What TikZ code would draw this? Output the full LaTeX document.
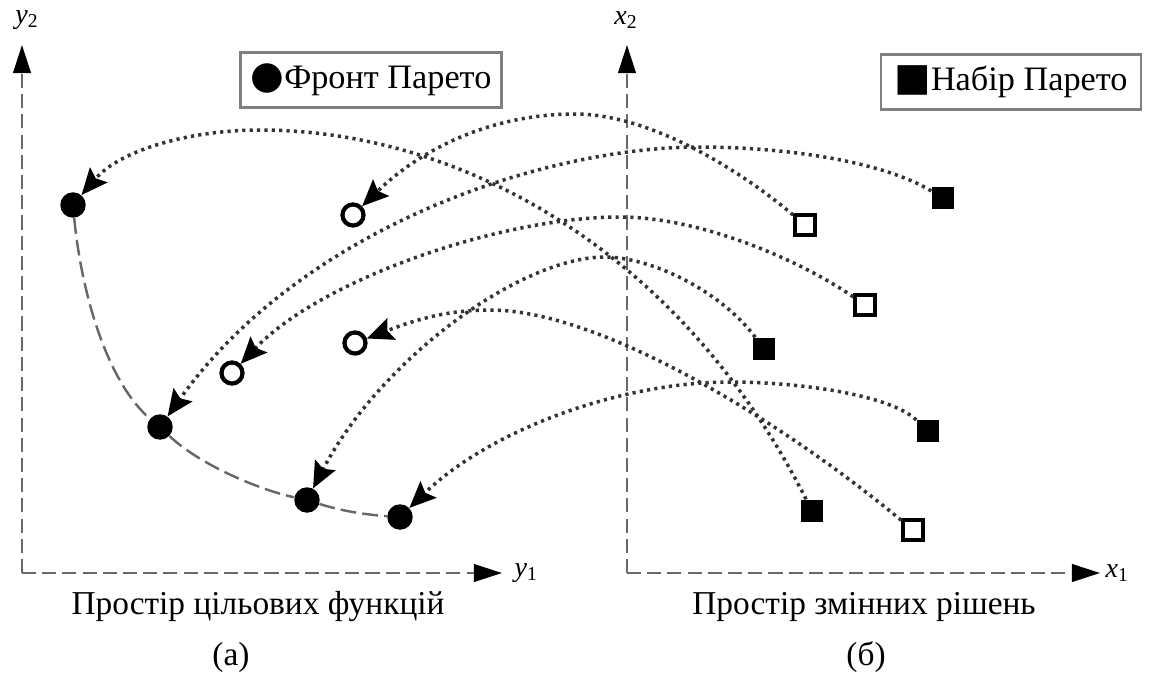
\documentclass[tikz,border=0pt]{standalone}
\usepackage{fontspec}
\setmainfont{Liberation Serif}
\newfontfamily\symfont{DejaVu Sans}
\usetikzlibrary{arrows.meta}

\definecolor{axisgray}{HTML}{686868}
\definecolor{dotgray}{HTML}{333333}

\begin{document}
\begin{tikzpicture}[x=0.02cm, y=-0.02cm,
    axis/.style={axisgray, line width=1.4pt, dash pattern=on 8pt off 3.5pt,
      -{Triangle[length=16pt, width=10pt, color=black]}},
    link/.style={dotgray, line width=2pt, dash pattern=on 1.8pt off 2.4pt,
      -{Stealth[length=15pt, width=13pt, inset=2.5pt, color=black]}},
    front/.style={axisgray, line width=1.4pt, dash pattern=on 9pt off 3.5pt},
    pf/.style={circle, fill=black, inner sep=0pt, minimum size=14.5pt},
    pfo/.style={circle, draw=black, line width=2.4pt, fill=white,
      inner sep=0pt, minimum size=12pt},
    ps/.style={rectangle, fill=black, inner sep=0pt, minimum size=13pt},
    pso/.style={rectangle, draw=black, line width=2.4pt, fill=white,
      inner sep=0pt, minimum size=11pt},
    legend/.style={draw=gray, line width=1.6pt, inner sep=0pt,
      minimum height=31pt, font=\fontsize{19.5}{24}\selectfont},
    caption/.style={font=\fontsize{19}{24}\selectfont},
    lab/.style={inner sep=1pt, font=\fontsize{16}{20}\selectfont}
  ]
  \useasboundingbox (0,0) rectangle (1152,677);

  % Axes
  \coordinate (oa) at (22,573);
  \coordinate (ya) at (22,45);
  \coordinate (xa) at (502,573);
  \coordinate (ob) at (627,573);
  \coordinate (yb) at (627,45);
  \coordinate (xb) at (1100,573);
  \draw[axis] (oa) -- (ya);
  \draw[axis] (oa) -- (xa);
  \draw[axis] (ob) -- (yb);
  \draw[axis] (ob) -- (xb);
  \node[lab] (ly2) at (27,20) {\textit{y}\textsubscript{2}};
  \node[lab, anchor=west] (ly1) at ([xshift=6pt]xa) {\textit{y}\textsubscript{1}};
  \node[lab] (lx2) at (626,20) {\textit{x}\textsubscript{2}};
  \node[lab, anchor=west] (lx1) at ([xshift=2pt]xb) {\textit{x}\textsubscript{1}};

  % Legends
  \node[legend, minimum width=149pt] (lega) at (371,80)
    {{\symfont\fontsize{22}{24}\selectfont ●}Фронт Парето};
  \node[legend, minimum width=148pt] (legb) at (1011,82)
    {{\symfont\fontsize{22}{24}\selectfont ■}Набір Парето};

  % Objective space
  \node[pf]  (c1) at (73,205) {};
  \node[pfo] (c2) at (353,215) {};
  \node[pf]  (c3) at (160,427) {};
  \node[pfo] (c4) at (232,373) {};
  \node[pf]  (c5) at (307,500) {};
  \node[pfo] (c6) at (355,343) {};
  \node[pf]  (c7) at (400,517) {};
  \draw[front] (c1) .. controls (82,300) and (110,385) .. (c3)
    .. controls (200,465) and (260,490) .. (c5)
    .. controls (345,512) and (370,515) .. (c7);

  % Decision space
  \node[ps]  (s1) at (812,511) {};
  \node[pso] (s2) at (805,225) {};
  \node[ps]  (s3) at (943,198) {};
  \node[pso] (s4) at (865,305) {};
  \node[ps]  (s5) at (764,349) {};
  \node[pso] (s6) at (913,530) {};
  \node[ps]  (s7) at (928,431) {};

  % Mapping
  \draw[link] (s1) .. controls (680,250) and (460,130) .. (260,130)
    .. controls (190,130) and (120,150) .. (c1);
  \draw[link] (s2) .. controls (740,170) and (650,114) .. (575,114)
    .. controls (490,114) and (420,150) .. (c2);
  \draw[link] (s3) .. controls (880,160) and (780,147) .. (700,147)
    .. controls (540,147) and (300,230) .. (c3);
  \draw[link] (s4) .. controls (800,260) and (700,217) .. (620,217)
    .. controls (500,217) and (320,280) .. (c4);
  \draw[link] (s5) .. controls (720,290) and (650,257) .. (605,257)
    .. controls (520,257) and (380,360) .. (c5);
  \draw[link] (s6) .. controls (780,420) and (600,310) .. (490,310)
    .. controls (450,310) and (420,318) .. (c6);
  \draw[link] (s7) .. controls (890,395) and (800,382) .. (730,382)
    .. controls (620,382) and (490,430) .. (c7);

  % Captions
  \node[caption] (ta) at (258,607) {Простір цільових функцій};
  \node[caption] (na) at (231,657) {(а)};
  \node[caption] (tb) at (864,607) {Простір змінних рішень};
  \node[caption] (nb) at (866,657) {(б)};
\end{tikzpicture}
\end{document}
